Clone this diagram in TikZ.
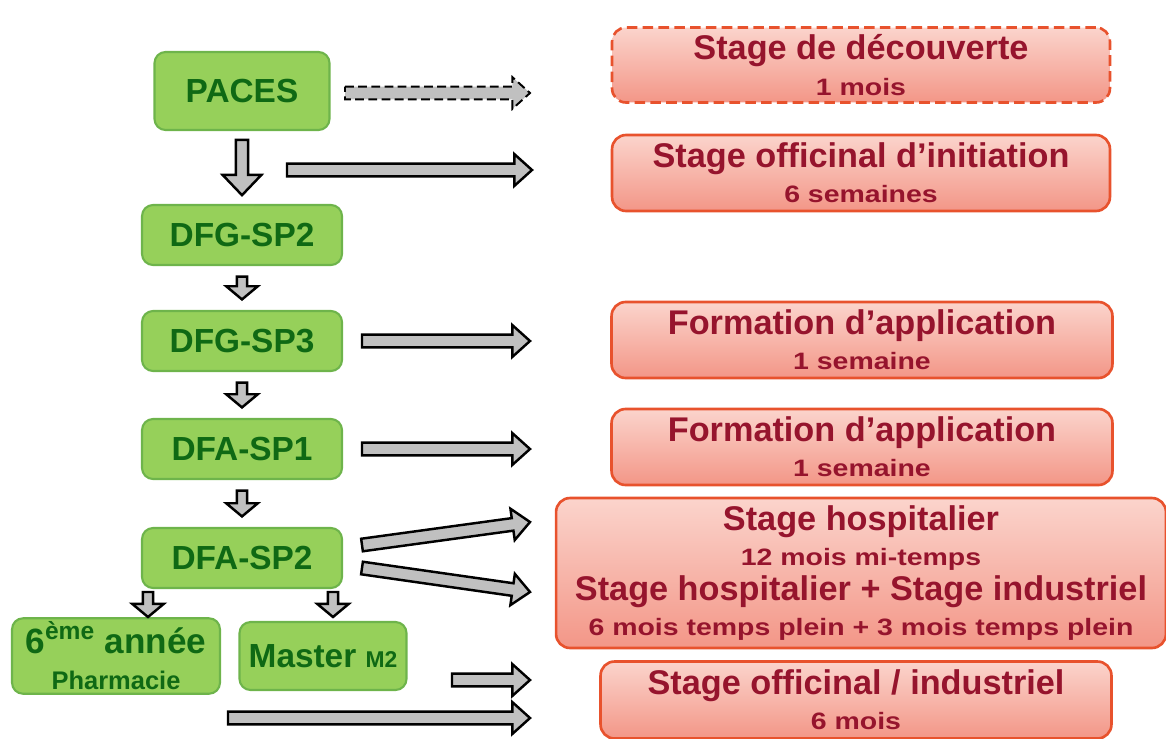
\documentclass[tikz,border=0pt]{standalone}
\usepackage{fontspec}
\setmainfont{Liberation Sans}
\newfontfamily\durfont[FakeStretch=1.2]{Liberation Sans}
\usetikzlibrary{calc,positioning}
\definecolor{lgreen}{RGB}{150,208,90}
\definecolor{gborder}{RGB}{110,180,75}
\definecolor{tgreen}{RGB}{15,105,20}
\definecolor{rtop}{RGB}{251,212,204}
\definecolor{rbot}{RGB}{243,150,135}
\definecolor{rborder}{RGB}{232,82,45}
\definecolor{tred}{RGB}{150,20,45}
\definecolor{agray}{RGB}{192,192,192}
\newcommand{\dur}[1]{{\durfont\bfseries\fontsize{13.5}{16}\selectfont #1}}
\tikzset{
    stepbox/.style={
        rectangle, rounded corners=0.22cm,
        minimum width=4cm, minimum height=1.2cm,
        inner sep=2pt, align=center,
        draw=gborder, line width=1.2pt, fill=lgreen,
        text=tgreen, font=\bfseries\fontsize{19}{21}\selectfont
    },
    stagebox/.style={
        rectangle, rounded corners=0.28cm,
        inner sep=2pt, align=center,
        draw=rborder, line width=1.5pt,
        top color=rtop, bottom color=rbot,
        text=tred, font=\bfseries\fontsize{19.5}{20}\selectfont
    },
    block arrow/.style n args={4}{
        draw=black, line width=1.4pt, fill=agray, line join=miter,
        to path={
            ($(\tikztostart)!#1!(\tikztotarget)$) coordinate (ba-s)
            ($(\tikztotarget)!#1!(\tikztostart)$) coordinate (ba-t)
            ($(ba-t)!#4!(ba-s)$) coordinate (ba-b)
            ($(ba-s)!#2!90:(ba-t)$) -- ($(ba-b)!#2!90:(ba-t)$)
            -- ($(ba-b)!#3!90:(ba-t)$) -- (ba-t)
            -- ($(ba-b)!#3!-90:(ba-t)$) -- ($(ba-b)!#2!-90:(ba-t)$)
            -- ($(ba-s)!#2!-90:(ba-t)$) -- cycle
        }
    },
    fat arrow/.style={block arrow={0pt}{3.6pt}{9pt}{10pt}},
    down arrow/.style={block arrow={#1}{3.5pt}{11pt}{11.5pt}},
    down arrow/.default=5pt,
    small arrow/.style={block arrow={#1}{2.9pt}{9pt}{7.5pt}},
    small arrow/.default=6pt
}
\begin{document}
\begin{tikzpicture}[x=0.02cm, y=-0.02cm]
    \useasboundingbox (0,0) rectangle (1166,738);

    \node[stepbox, minimum width=3.5cm, minimum height=1.56cm] (paces) at (242,91) {PACES};
    \node[stepbox] (dfgsp2) at (242,235) {DFG-SP2};
    \node[stepbox] (dfgsp3) at (242,341) {DFG-SP3};
    \node[stepbox] (dfasp1) at (242,449) {DFA-SP1};
    \node[stepbox] (dfasp2) at (242,558) {DFA-SP2};
    \node[stepbox, minimum width=4.16cm, minimum height=1.36cm] (sixieme) at (116,656)
        {{\fontsize{20}{20}\selectfont 6\textsuperscript{ème} année}\\{\fontsize{14.5}{16}\selectfont Pharmacie}};
    \node[stepbox, minimum width=3.34cm, minimum height=1.36cm] (master) at (323,656)
        {Master {\fontsize{13}{14}\selectfont M2}};

    \node[stagebox, dash pattern=on 6pt off 3pt, minimum width=9.96cm, minimum height=1.5cm] (decouverte) at (861,65)
        {Stage de découverte\\\dur{1 mois}};
    \node[stagebox, minimum width=9.96cm, minimum height=1.52cm] (initiation) at (861,173)
        {Stage officinal d’initiation\\\dur{6 semaines}};
    \node[stagebox, minimum width=10.02cm, minimum height=1.52cm] (application1) at (862,340)
        {Formation d’application\\\dur{1 semaine}};
    \node[stagebox, minimum width=10.02cm, minimum height=1.52cm] (application2) at (862,447)
        {Formation d’application\\\dur{1 semaine}};
    \node[stagebox, minimum width=12.2cm, minimum height=3cm] (hospitalier) at (861,573)
        {Stage hospitalier\\\dur{12 mois mi-temps}\\Stage hospitalier + Stage industriel\\\dur{6 mois temps plein + 3 mois temps plein}};
    \node[stagebox, minimum width=10.22cm, minimum height=1.54cm] (officinal) at (856,700)
        {Stage officinal / industriel\\\dur{6 mois}};

    \coordinate (d-s) at (345,93);
    \coordinate (d-t) at (530,93);
    \coordinate (i-s) at (287,170);
    \coordinate (i-t) at (532,170);
    \coordinate (f1-s) at (362,341);
    \coordinate (f1-t) at (530,341);
    \coordinate (f2-s) at (362,449);
    \coordinate (f2-t) at (530,449);
    \coordinate (h1-s) at (362,545);
    \coordinate (h1-t) at (530,522);
    \coordinate (h2-s) at (362,568);
    \coordinate (h2-t) at (530,592);
    \coordinate (m-s) at (452,680);
    \coordinate (m-t) at (530,680);
    \coordinate (o-s) at (228,718);
    \coordinate (o-t) at (530,718);
    \coordinate (s6-s) at (148,592);
    \coordinate (s6-t) at (148,617);
    \coordinate (sm-s) at (333,592);
    \coordinate (sm-t) at (333,617);

    \draw[fat arrow, dash pattern=on 5pt off 2.5pt, line width=1.1pt] (d-s) to (d-t);
    \draw[fat arrow] (i-s) to (i-t);
    \draw[fat arrow] (f1-s) to (f1-t);
    \draw[fat arrow] (f2-s) to (f2-t);
    \draw[fat arrow] (h1-s) to (h1-t);
    \draw[fat arrow] (h2-s) to (h2-t);
    \draw[fat arrow] (m-s) to (m-t);
    \draw[fat arrow] (o-s) to (o-t);

    \draw[down arrow] (paces.south) to (dfgsp2.north);
    \draw[small arrow] (dfgsp2.south) to (dfgsp3.north);
    \draw[small arrow] (dfgsp3.south) to (dfasp1.north);
    \draw[small arrow] (dfasp1.south) to (dfasp2.north);
    \draw[small arrow=0pt] (s6-s) to (s6-t);
    \draw[small arrow=0pt] (sm-s) to (sm-t);
\end{tikzpicture}
\end{document}
